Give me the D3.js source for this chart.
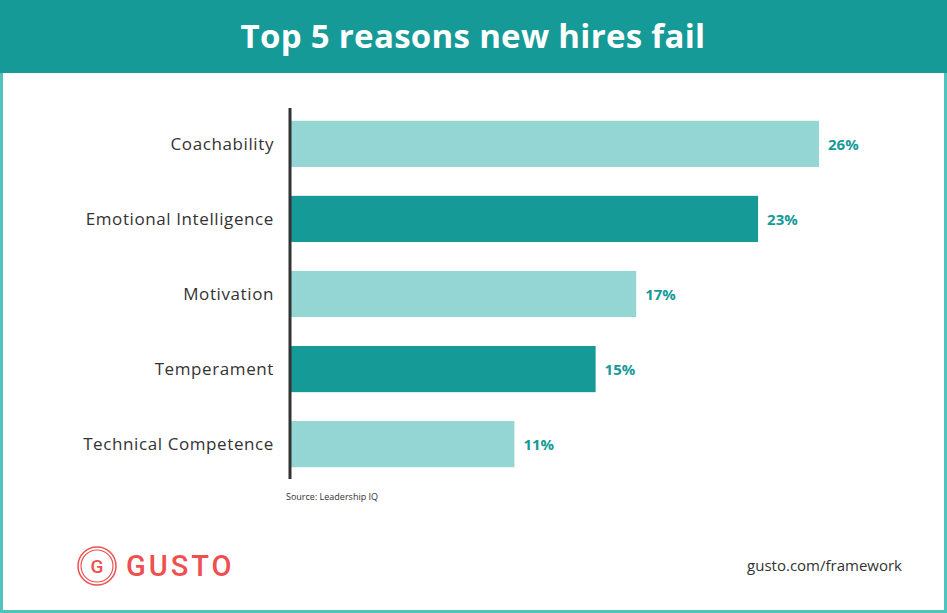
<!DOCTYPE html>
<html><head><meta charset="utf-8">
<script src="https://cdn.jsdelivr.net/npm/d3@7"></script>
<style>body{margin:0;background:#fff}svg{display:block}</style>
</head><body><svg id="c" width="947" height="613"></svg>
<script>
const categories = ['Coachability', 'Emotional Intelligence', 'Motivation', 'Temperament', 'Technical Competence'];
const values = [26, 23, 17, 15, 11];
const colors = ['#93d6d4', '#159a98', '#93d6d4', '#159a98', '#93d6d4'];

const svg = d3.select('#c');
const font = '"Open Sans", Roboto, sans-serif';

svg.append('rect').attr('width', 947).attr('height', 613).attr('fill', '#4fc3bd');
svg.append('rect').attr('x', 3).attr('y', 0).attr('width', 941).attr('height', 610).attr('fill', '#fff');
svg.append('rect').attr('x', 0).attr('y', 0).attr('width', 947).attr('height', 73).attr('fill', '#159a98');
svg.append('text').attr('x', 473).attr('y', 48).attr('text-anchor', 'middle')
  .attr('fill', '#fff').style('font', `bold 33px ${font}`).style('letter-spacing', '0.3px')
  .text('Top 5 reasons new hires fail');

const x = d3.scaleLinear().domain([0, 26]).range([291, 819]);
const y = d3.scaleBand().domain(categories).range([106.5, 481.5]).paddingInner(0.385).paddingOuter(0.19);

const g = svg.selectAll('g.bar').data(categories).enter().append('g');
g.append('rect').attr('x', x(0)).attr('y', d => y(d)).attr('height', y.bandwidth())
  .attr('width', (d, i) => x(values[i]) - x(0)).attr('fill', (d, i) => colors[i]);
g.append('text').attr('x', 274).attr('y', d => y(d) + y.bandwidth() / 2 + 6).attr('text-anchor', 'end')
  .attr('fill', '#333').style('font', `17px ${font}`).style('letter-spacing', '0.6px').text(d => d);
g.append('text').attr('x', (d, i) => x(values[i]) + 9).attr('y', d => y(d) + y.bandwidth() / 2 + 6)
  .attr('fill', '#159a98').style('font', `bold 15px ${font}`).text((d, i) => values[i] + '%');

svg.append('line').attr('x1', 290).attr('x2', 290).attr('y1', 108).attr('y2', 479)
  .attr('stroke', '#333').attr('stroke-width', 3);

svg.append('text').attr('x', 286).attr('y', 500).attr('fill', '#333')
  .style('font', `9px ${font}`).text('Source: Leadership IQ');

// logo
const logo = svg.append('g').attr('transform', 'translate(97,566)');
logo.append('circle').attr('r', 19).attr('fill', 'none').attr('stroke', '#ef4f4f').attr('stroke-width', 1.5);
logo.append('circle').attr('r', 16).attr('fill', 'none').attr('stroke', '#ef4f4f').attr('stroke-width', 1.2);
logo.append('text').attr('y', 7).attr('text-anchor', 'middle').attr('fill', '#ef4f4f')
  .style('font', `500 19px Roboto, sans-serif`).text('G');
svg.append('text').attr('x', 126).attr('y', 576).attr('fill', '#ef4f4f')
  .style('font', `500 29px Roboto, sans-serif`).style('letter-spacing', '3px').text('GUSTO');

svg.append('text').attr('x', 902).attr('y', 571).attr('text-anchor', 'end').attr('fill', '#333')
  .style('font', `15px ${font}`).text('gusto.com/framework');
</script></body></html>
